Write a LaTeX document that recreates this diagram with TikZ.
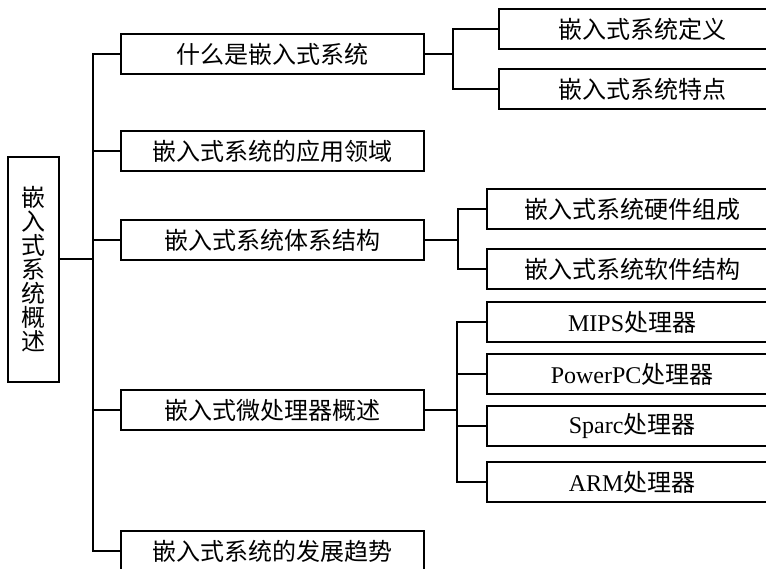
\documentclass[tikz,border=0pt]{standalone}
\usepackage{fontspec}
\setmainfont{Liberation Serif}
\newfontfamily\cjk{Noto Sans CJK SC}
\usetikzlibrary{positioning,calc}
\tikzset{
  lonebox/.style={draw=black,line width=2.2pt,minimum width=303pt,minimum height=40pt,inner sep=0pt,anchor=west,font=\fontsize{24}{24}\selectfont},
  ltwobox/.style={draw=black,line width=2.2pt,minimum width=#1,minimum height=40pt,inner sep=0pt,anchor=west,font=\fontsize{24}{24}\selectfont},
  ltwobox/.default=290pt,
  rootbox/.style={draw=black,line width=2.2pt,minimum width=51pt,minimum height=225pt,inner sep=0pt,align=center,font=\fontsize{24}{24}\selectfont\cjk},
  conn/.style={line width=1.4pt,color=black},
}

\begin{document}
\begin{tikzpicture}[x=1pt,y=-1pt]
  \clip (0,0) rectangle (766,569);
  \fill[white] (0,0) rectangle (766,569);
  % root
  \node[rootbox] (root) at (33.5,269.5) {嵌\\入\\式\\系\\统\\概\\述};
  % first level
  \node[lonebox] (what)  at (120,54)  {\cjk 什么是嵌入式系统};
  \node[lonebox] (apps)  at (120,151) {\cjk 嵌入式系统的应用领域};
  \node[lonebox] (arch)  at (120,240) {\cjk 嵌入式系统体系结构};
  \node[lonebox] (cpu)   at (120,410) {\cjk 嵌入式微处理器概述};
  \node[lonebox] (trend) at (120,551) {\cjk 嵌入式系统的发展趋势};
  % second level
  \node[ltwobox=286pt] (def)  at (498,29) {\cjk 嵌入式系统定义};
  \node[ltwobox=286pt] (feat) at (498,89) {\cjk 嵌入式系统特点};
  \node[ltwobox] (hw) at (486,209) {\cjk 嵌入式系统硬件组成};
  \node[ltwobox] (sw) at (486,269) {\cjk 嵌入式系统软件结构};
  \node[ltwobox] (mips)  at (486,322) {MIPS{\cjk 处理器}};
  \node[ltwobox] (ppc)   at (486,374) {PowerPC{\cjk 处理器}};
  \node[ltwobox] (sparc) at (486,426) {Sparc{\cjk 处理器}};
  \node[ltwobox] (arm)   at (486,482) {ARM{\cjk 处理器}};
  % junctions
  \coordinate (rj) at (93,259);
  \coordinate (wj) at (453,54);
  \coordinate (aj) at (458,240);
  \coordinate (cj) at (457,410);
  % connectors
  \draw[conn] (root.east |- rj) -- (rj);
  \foreach \n in {what,apps,arch,cpu,trend}{\draw[conn] (rj) |- (\n.west);}
  \draw[conn] (what.east) -- (wj);
  \foreach \n in {def,feat}{\draw[conn] (wj) |- (\n.west);}
  \draw[conn] (arch.east) -- (aj);
  \foreach \n in {hw,sw}{\draw[conn] (aj) |- (\n.west);}
  \draw[conn] (cpu.east) -- (cj);
  \foreach \n in {mips,ppc,sparc,arm}{\draw[conn] (cj) |- (\n.west);}
\end{tikzpicture}
\end{document}
